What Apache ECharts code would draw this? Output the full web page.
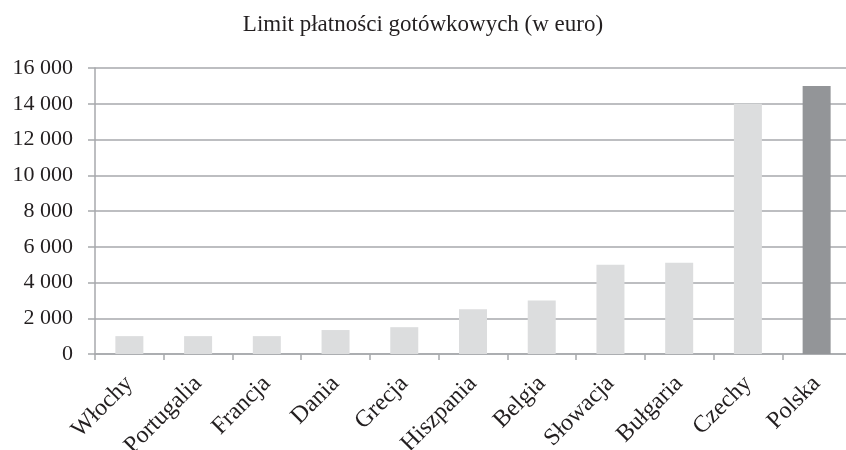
<!DOCTYPE html>
<html>
<head>
<meta charset="utf-8">
<script src="https://cdn.jsdelivr.net/npm/echarts@6/dist/echarts.min.js"></script>
<style>
  html, body { margin: 0; padding: 0; background: #fff; }
  #chart { width: 846px; height: 450px; }
</style>
</head>
<body>
<div id="chart"></div>
<script>
// Limit płatności gotówkowych (w euro)
const countries = ['Włochy', 'Portugalia', 'Francja', 'Dania', 'Grecja', 'Hiszpania',
  'Belgia', 'Słowacja', 'Bułgaria', 'Czechy', 'Polska'];
const limits = [1000, 1000, 1000, 1340, 1500, 2500, 3000, 5000, 5100, 14000, 15000];
const highlight = 'Polska';

const FONT = '"Liberation Serif", "Times New Roman", serif';
const TEXT = '#231F20';
const GRID_LINE = '#A7A9AC';

const chart = echarts.init(document.getElementById('chart'));
chart.setOption({
  animation: false,
  title: {
    text: 'Limit płatności gotówkowych (w euro)',
    left: 'center',
    top: 8,
    textStyle: { fontFamily: FONT, fontSize: 23, fontWeight: 'normal', color: TEXT }
  },
  grid: { left: 95, top: 68, width: 756, height: 286, outerBoundsMode: 'none' },
  xAxis: {
    type: 'category',
    data: countries,
    axisLine: { lineStyle: { color: GRID_LINE, width: 1.5 } },
    axisTick: { show: true, length: 6, lineStyle: { color: GRID_LINE, width: 1.5 } },
    axisLabel: {
      rotate: 45,
      interval: 0,
      margin: 26,
      fontFamily: FONT,
      fontSize: 24,
      color: TEXT
    }
  },
  yAxis: {
    type: 'value',
    min: 0,
    max: 16000,
    interval: 2000,
    axisLine: { show: true, lineStyle: { color: GRID_LINE, width: 1.5 } },
    axisTick: { show: true, length: 7, lineStyle: { color: GRID_LINE, width: 1.5 } },
    splitLine: { lineStyle: { color: GRID_LINE, width: 1.5 } },
    axisLabel: {
      margin: 22,
      fontFamily: FONT,
      fontSize: 22,
      color: TEXT,
      formatter: v => String(v).replace(/\B(?=(\d{3})+(?!\d))/g, ' ')
    }
  },
  series: [{
    type: 'bar',
    barWidth: 28,
    data: limits.map((v, i) => ({
      value: v,
      itemStyle: { color: countries[i] === highlight ? '#939598' : '#DCDDDE' }
    }))
  }]
});
</script>
</body>
</html>
